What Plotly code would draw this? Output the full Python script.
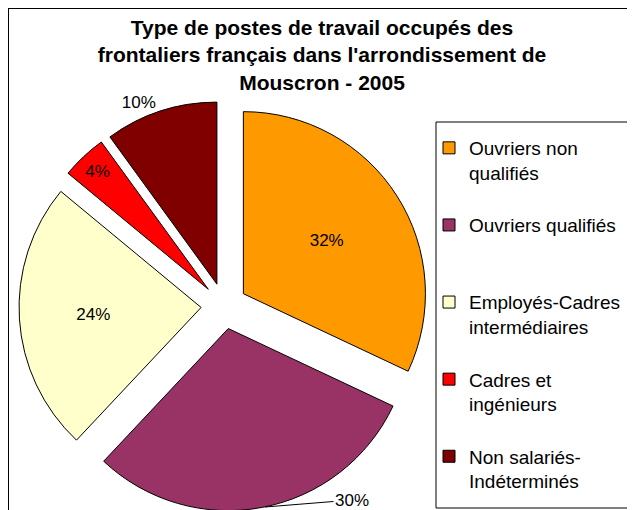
import plotly.graph_objects as go

categories = ["Ouvriers non qualifiés", "Ouvriers qualifiés", "Employés-Cadres intermédiaires",
              "Cadres et ingénieurs", "Non salariés-Indéterminés"]
legend_labels = ["Ouvriers non<br>qualifiés<br>\u00a0", "Ouvriers qualifiés<br>\u00a0<br>\u00a0",
                 "Employés-Cadres<br>intermédiaires<br>\u00a0", "Cadres et<br>ingénieurs<br>\u00a0",
                 "Non salariés-<br>Indéterminés"]
values = [32, 30, 24, 4, 10]
colors = ["#FF9900", "#993366", "#FFFFCC", "#FF0000", "#800000"]
text_pos = ["inside", "none", "inside", "inside", "outside"]

W, H = 635, 510
OFF = 8  # page body margin offset
FONT = "Arial, 'Liberation Sans', sans-serif"


def px(x):
    return (x - OFF) / W


def py(y):
    return 1 - (y - OFF) / H


fig = go.Figure(go.Pie(
    labels=legend_labels,
    values=values,
    sort=False,
    direction="clockwise",
    rotation=0,
    pull=[0.126] * len(values),
    marker=dict(colors=colors, line=dict(color="black", width=1)),
    textinfo="percent",
    texttemplate="%{percent:.0%}",
    textposition=text_pos,
    insidetextorientation="horizontal",
    textfont=dict(family=FONT, size=17, color="black"),
    domain=dict(x=[px(19), px(429)], y=[py(511), py(101)]),
    showlegend=True,
))

# 30% label with leader line (outside at bottom right, as in the original)
fig.add_annotation(
    x=px(265), y=py(507), xref="paper", yref="paper",
    text=f"{values[1]}%", showarrow=True, arrowhead=0, arrowwidth=1, arrowcolor="black",
    ax=87, ay=-7, font=dict(family=FONT, size=17, color="black"),
)

# chart frame and legend box
fig.add_shape(type="rect", xref="paper", yref="paper", x0=px(8), x1=1.05, y0=-0.05, y1=py(8),
              line=dict(color="black", width=2), fillcolor="rgba(0,0,0,0)", layer="below")
fig.add_shape(type="rect", xref="paper", yref="paper", x0=px(436), x1=px(634), y0=py(508), y1=py(122),
              line=dict(color="black", width=1), fillcolor="rgba(0,0,0,0)")

fig.update_layout(
    width=W, height=H,
    margin=dict(l=0, r=0, t=0, b=0, autoexpand=False),
    paper_bgcolor="white", plot_bgcolor="white",
    title=dict(text="<b>Type de postes de travail occupés des<br>frontaliers français dans l'arrondissement de<br>Mouscron - 2005</b>",
               x=px(322), xanchor="center", xref="container", y=1 - 27 / H, yanchor="top", yref="container",
               font=dict(family=FONT, size=21, color="black"), automargin=False),
    legend=dict(x=px(429), xanchor="left", y=py(129), yanchor="top", valign="top",
                xref="container", yref="container", maxheight=500,
                font=dict(family=FONT, size=19, color="black"), bgcolor="rgba(0,0,0,0)",
                tracegroupgap=0),
    font=dict(family=FONT),
)

fig.write_html("out.html")
